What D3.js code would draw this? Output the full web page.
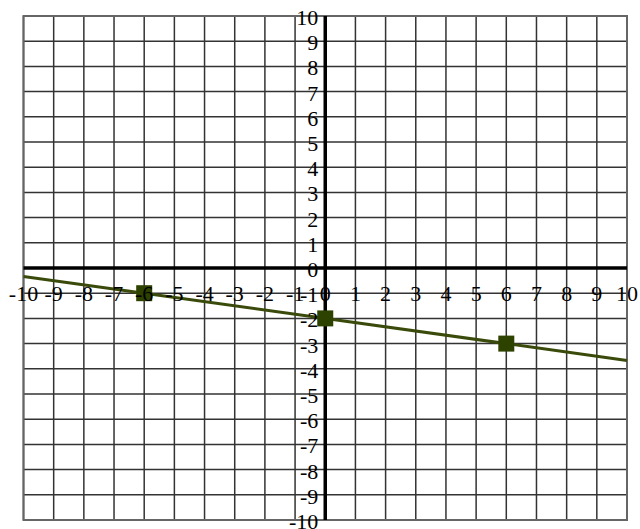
<!DOCTYPE html>
<html><head><meta charset="utf-8">
<script src="https://cdn.jsdelivr.net/npm/d3@7"></script>
<style>body{margin:0;background:#fff}svg{display:block}</style>
</head><body>
<script>
const xTicks = d3.range(-10, 11);
const yTicks = d3.range(-10, 11);
const pointsX = [-6, 0, 6];
const pointsY = [-1, -2, -3];
const lineX = [-10, 10];
const lineY = [-1/3, -11/3];

const W = 640, H = 529;
const svg = d3.select("body").append("svg").attr("width", W).attr("height", H);
const x = d3.scaleLinear().domain([-10, 10]).range([23.5, 627]);
const y = d3.scaleLinear().domain([-10, 10]).range([520, 16]);

const g = svg.append("g");
g.selectAll("line.gx").data(xTicks).join("line")
  .attr("x1", d => x(d)).attr("x2", d => x(d)).attr("y1", y(10)).attr("y2", y(-10))
  .attr("stroke", "#333").attr("stroke-width", 1.5);
g.selectAll("line.gy").data(yTicks).join("line")
  .attr("y1", d => y(d)).attr("y2", d => y(d)).attr("x1", x(-10)).attr("x2", x(10))
  .attr("stroke", "#333").attr("stroke-width", 1.5);
g.append("rect").attr("x", x(-10)).attr("y", y(10)).attr("width", x(10) - x(-10)).attr("height", y(-10) - y(10))
  .attr("fill", "none").attr("stroke", "#666").attr("stroke-width", 2);

// axes
g.append("line").attr("x1", x(-10)).attr("x2", x(10)).attr("y1", y(0)).attr("y2", y(0))
  .attr("stroke", "#000").attr("stroke-width", 3.5);
g.append("line").attr("x1", x(0)).attr("x2", x(0)).attr("y1", y(10)).attr("y2", y(-10))
  .attr("stroke", "#000").attr("stroke-width", 3.5);

// data line
g.append("path").datum(lineX.map((d, i) => [d, lineY[i]]))
  .attr("d", d3.line().x(d => x(d[0])).y(d => y(d[1])))
  .attr("stroke", "#3a4a0a").attr("stroke-width", 3).attr("fill", "none");
g.selectAll("rect.pt").data(pointsX.map((d, i) => [d, pointsY[i]])).join("rect")
  .attr("x", d => x(d[0]) - 8).attr("y", d => y(d[1]) - 8).attr("width", 16).attr("height", 16)
  .attr("fill", "#2e4200");

// labels
const font = "'Liberation Serif', 'Times New Roman', serif";
g.selectAll("text.xl").data(xTicks).join("text")
  .attr("x", d => x(d)).attr("y", y(-1) + 8)
  .attr("text-anchor", "middle").attr("font-family", font).attr("font-size", 22)
  .attr("fill", "#000").text(d => d);
g.selectAll("text.yl").data(yTicks).join("text")
  .attr("x", x(0) - 7).attr("y", d => y(d) + 9)
  .attr("text-anchor", "end").attr("font-family", font).attr("font-size", 22)
  .attr("fill", "#000").text(d => d);
</script>
</body></html>
